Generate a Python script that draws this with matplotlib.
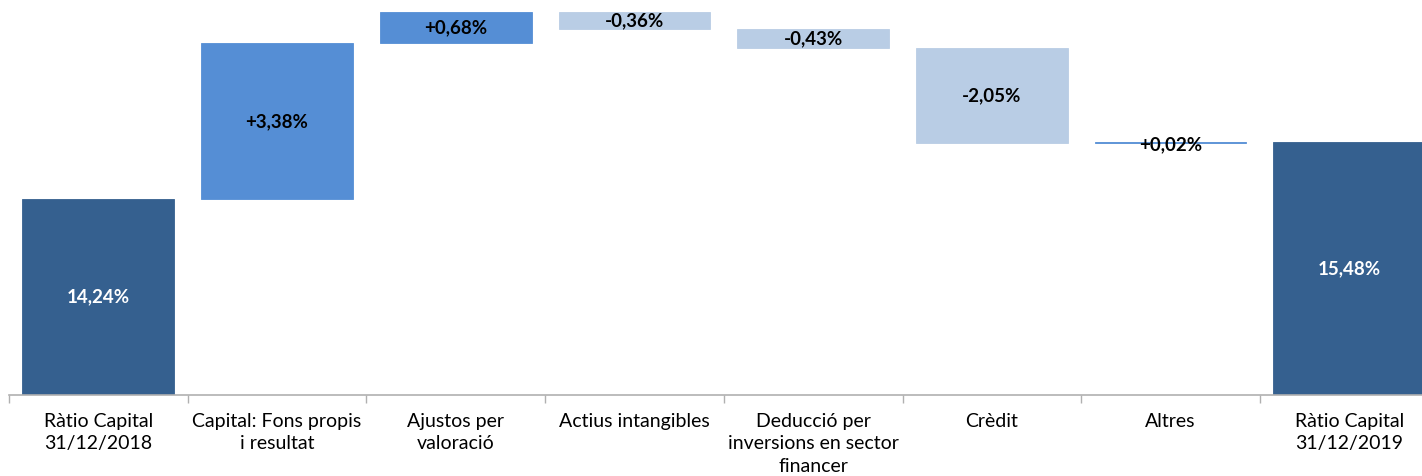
import matplotlib
matplotlib.use("Agg")
import matplotlib.pyplot as plt
import numpy as np

plt.rcParams['font.family'] = ['Lato', 'DejaVu Sans']

categories = ["Ràtio Capital\n31/12/2018", "Capital: Fons propis\ni resultat",
              "Ajustos per\nvaloració", "Actius intangibles",
              "Deducció per\ninversions en sector\nfinancer", "Crèdit", "Altres",
              "Ràtio Capital\n31/12/2019"]
start_total = 14.24
deltas = [3.38, 0.68, -0.36, -0.43, -2.05, 0.02]
end_total = 15.48
value_labels = ["14,24%", "+3,38%", "+0,68%", "-0,36%", "-0,43%", "-2,05%", "+0,02%", "15,48%"]

c_total = "#35608F"
c_up = "#558ED5"
c_down = "#B9CDE5"

y_min = 10.0
px_per_unit = 46.15

fig = plt.figure(figsize=(14.22, 4.76), dpi=100)
ax_left = 9 / 1422
ax_w = 178.7 * 8 / 1422
ax_bottom = 81 / 476
ax = fig.add_axes([ax_left, ax_bottom, ax_w, 1 - ax_bottom])

x = np.arange(len(categories))
width = 0.85

bottoms, heights, colors = [], [], []
bottoms.append(y_min); heights.append(start_total - y_min); colors.append(c_total)
level = start_total
for d in deltas:
    if d >= 0:
        bottoms.append(level); heights.append(d); colors.append(c_up)
    else:
        bottoms.append(level + d); heights.append(-d); colors.append(c_down)
    level += d
bottoms.append(y_min); heights.append(end_total - y_min); colors.append(c_total)

ax.bar(x, heights, bottom=bottoms, width=width, color=colors,
       edgecolor=colors, linewidth=0.6)

for i, (b, h, lab) in enumerate(zip(bottoms, heights, value_labels)):
    is_total = i in (0, len(categories) - 1)
    yc = b + h / 2
    if abs(h) < 0.05:
        yc = b - 0.03
    ax.text(x[i], yc, lab, ha="center", va="center", fontsize=13.5,
            fontweight="bold", color="white" if is_total else "black")

ax.set_xlim(-0.5, len(categories) - 0.5)
ax.set_ylim(y_min, y_min + 395 / px_per_unit)

for s in ("top", "right", "left"):
    ax.spines[s].set_visible(False)
ax.spines["bottom"].set_color("#B0B0B0")
ax.spines["bottom"].set_linewidth(1.2)
ax.set_yticks([])

ax.set_xticks(x)
ax.set_xticklabels(categories, fontsize=14, linespacing=1.38)
ax.tick_params(axis="x", which="major", length=0, pad=13)
ax.set_xticks(np.arange(-0.5, len(categories), 1.0), minor=True)
ax.tick_params(axis="x", which="minor", length=6, color="#B0B0B0", width=1)

fig.savefig("out.png", dpi=100)
